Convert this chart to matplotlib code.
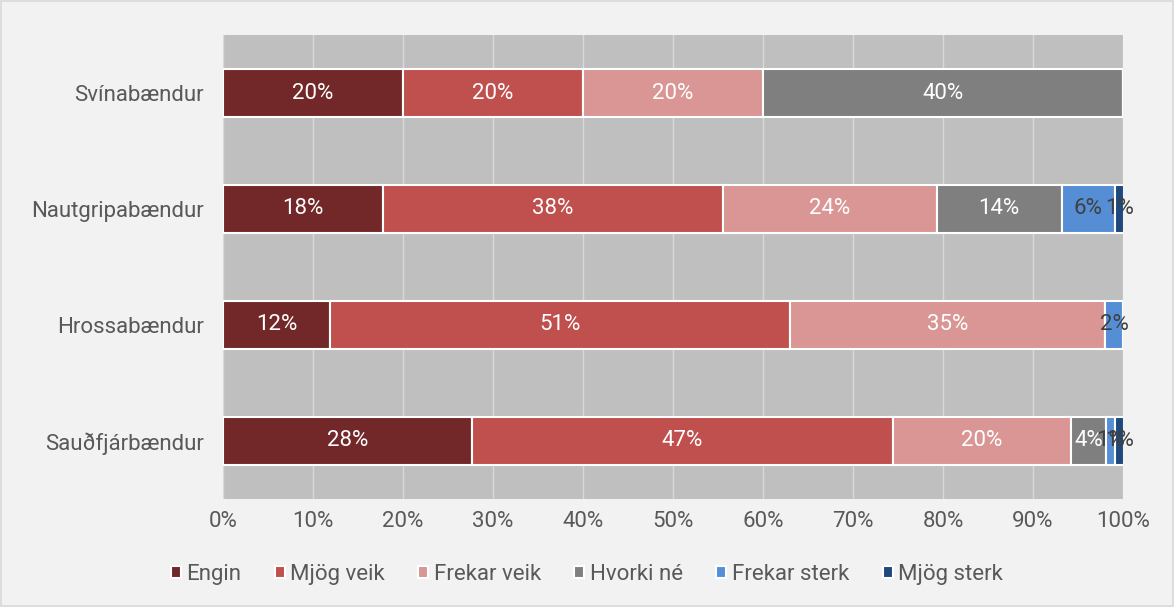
import numpy as np
import matplotlib.pyplot as plt
from matplotlib.ticker import PercentFormatter

plt.rcParams['font.family'] = ['Roboto', 'DejaVu Sans']

# categories top to bottom
categories = ["Svínabændur", "Nautgripabændur", "Hrossabændur", "Sauðfjárbændur"]
series = ["Engin", "Mjög veik", "Frekar veik", "Hvorki né", "Frekar sterk", "Mjög sterk"]

engin = [20.0, 17.8, 11.9, 27.7]
mjog_veik = [20.0, 37.7, 51.1, 46.7]
frekar_veik = [20.0, 23.8, 35.0, 19.8]
hvorki = [40.0, 13.9, 0.0, 3.9]
frekar_sterk = [0.0, 5.9, 2.0, 1.0]
mjog_sterk = [0.0, 1.0, 0.0, 1.0]

colors = ["#722828", "#c0504d", "#d99694", "#7f7f7f", "#558ed5", "#1f497d"]
label_colors = ["white", "white", "white", "white", "#404040", "#404040"]

values = [engin, mjog_veik, frekar_veik, hvorki, frekar_sterk, mjog_sterk]

fig = plt.figure(figsize=(11.74, 6.07), dpi=100, facecolor="#f2f2f2")
ax = fig.add_axes([0.19, 0.178, 0.7666, 0.7643])
ax.set_facecolor("#bfbfbf")

y = np.arange(len(categories))
left = np.zeros(len(categories))
for name, vals, col, lcol in zip(series, values, colors, label_colors):
    vals = np.array(vals)
    ax.barh(y, vals, left=left, height=0.41, color=col, edgecolor="white",
            linewidth=1.5, label=name, zorder=3)
    for yi, (l, v) in enumerate(zip(left, vals)):
        if v > 0:
            ax.text(l + v / 2, yi, f"{v:.0f}%", ha="center", va="center",
                    color=lcol, fontsize=16, zorder=4)
    left += vals

ax.set_xlim(0, 100)
ax.set_ylim(len(categories) - 0.5, -0.5)
ax.set_yticks(y)
ax.set_yticklabels(categories)
ax.set_xticks(np.arange(0, 101, 10))
ax.xaxis.set_major_formatter(PercentFormatter(decimals=0))
ax.tick_params(axis="both", length=0, labelsize=16, colors="#595959")
ax.tick_params(axis="y", pad=14)
ax.tick_params(axis="x", pad=9)
ax.grid(axis="x", color="#d9d9d9", linewidth=1, zorder=0)
for s in ax.spines.values():
    s.set_visible(False)

fig.legend(loc="center", bbox_to_anchor=(0.5, 0.053), ncol=6, frameon=False,
           fontsize=16, handlelength=0.45, handleheight=0.45, handletextpad=0.25,
           columnspacing=1.5, labelcolor="#595959")

# outer border
fig.patches.append(plt.Rectangle((0.001, 0.001), 0.998, 0.997, transform=fig.transFigure,
                                 fill=False, edgecolor="#d9d9d9", linewidth=1.2))

fig.savefig("out.png", dpi=100, facecolor=fig.get_facecolor())
